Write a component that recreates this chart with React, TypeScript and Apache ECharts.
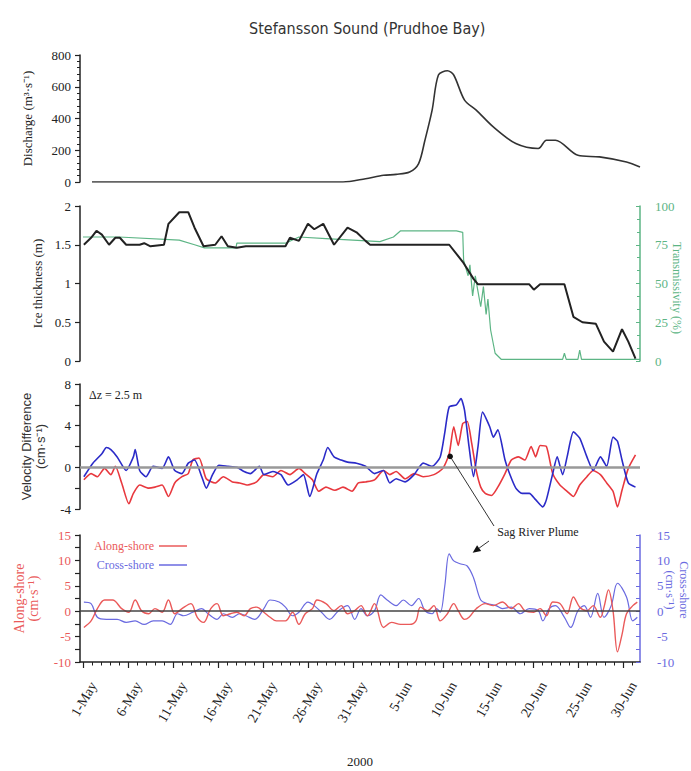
import React, { useEffect, useRef } from "react";
import * as echarts from "echarts";

// ---------- axis / tick data ----------
const X_MIN = -0.33;
const X_MAX = 61.9;
const tickDays = [0, 5, 10, 15, 20, 25, 30, 35, 40, 45, 50, 55, 60];
const tickLabels = ["1-May", "6-May", "11-May", "16-May", "21-May", "26-May", "31-May", "5-Jun", "10-Jun", "15-Jun", "20-Jun", "25-Jun", "30-Jun"];
const dayTicks = Array.from({ length: 62 }, (_, i) => i);

// ---------- panel 1: discharge ----------
const dischargeDays = [1.0, 28.9, 31.4, 33.4, 34.8, 36.3, 37.3, 38.0, 38.8, 39.5, 40.5, 41.2, 42.4, 43.7, 45.6, 48.1, 50.6, 51.5, 52.5, 55.0, 57.4, 60.4, 61.9];
const discharge = [0, 0, 21, 42, 48, 63, 116, 263, 453, 674, 701, 674, 516, 453, 347, 242, 211, 263, 263, 168, 158, 126, 95];

// ---------- panel 2: ice thickness & transmissivity ----------
const iceDays = [0.1, 0.9, 1.5, 2.1, 2.9, 3.6, 4.1, 4.8, 6.3, 6.8, 7.5, 9.0, 9.5, 10.7, 11.7, 12.4, 13.4, 14.7, 15.4, 16.1, 17.1, 18.1, 22.5, 23.0, 24.0, 25.0, 25.7, 26.7, 27.9, 29.4, 30.4, 31.4, 31.9, 40.7, 42.2, 43.4, 43.9, 49.6, 50.1, 50.8, 53.5, 54.5, 55.5, 57.0, 57.9, 58.9, 59.9, 60.6, 61.4];
const ice = [1.5, 1.59, 1.68, 1.63, 1.5, 1.59, 1.59, 1.5, 1.5, 1.52, 1.48, 1.5, 1.77, 1.92, 1.92, 1.72, 1.48, 1.5, 1.61, 1.48, 1.46, 1.48, 1.48, 1.59, 1.55, 1.77, 1.7, 1.77, 1.5, 1.72, 1.66, 1.55, 1.5, 1.5, 1.28, 1.06, 0.99, 0.99, 0.92, 0.99, 0.99, 0.57, 0.5, 0.48, 0.25, 0.12, 0.41, 0.25, 0.03];
const transDays = [0, 4, 10.7, 12.4, 13.5, 17.0, 17.1, 22.5, 24.0, 27.0, 30.0, 33.0, 34.5, 35.3, 41.5, 42.2, 42.3, 42.8, 43.0, 43.3, 43.6, 43.8, 44.2, 44.5, 44.8, 45.0, 45.3, 45.8, 46.5, 53.3, 53.5, 53.7, 55.0, 55.2, 55.4, 61.9];
const trans = [80, 80, 78, 75, 73, 73, 76, 76, 80, 79, 78, 77, 80, 84, 84, 83, 65, 55, 62, 42, 55, 48, 35, 48, 30, 40, 20, 5, 1, 1, 5, 1, 1, 7, 1, 1];

// ---------- panel 3: velocity difference ----------
const velAlongDays = [0.1, 0.9, 1.6, 2.4, 3.1, 3.6, 4.3, 5.1, 5.6, 6.3, 7.3, 8.0, 8.8, 9.5, 10.2, 11.0, 11.7, 12.2, 12.9, 13.7, 14.7, 15.6, 16.6, 17.4, 18.3, 19.3, 20.1, 21.1, 22.0, 23.0, 24.0, 24.7, 25.5, 26.2, 27.0, 28.0, 28.9, 29.9, 30.6, 31.4, 32.4, 33.4, 34.1, 34.8, 35.8, 36.8, 37.8, 39.0, 40.0, 40.7, 41.2, 41.7, 42.2, 42.7, 43.2, 43.7, 44.2, 44.7, 45.4, 46.1, 46.9, 47.6, 48.4, 49.1, 49.8, 50.3, 50.8, 51.5, 52.2, 53.0, 53.8, 54.5, 55.2, 56.0, 56.7, 57.5, 58.2, 58.9, 59.4, 59.9, 60.6, 61.4];
const velAlong = [-1.2, -0.6, -0.9, -0.1, -0.7, 0.1, -1.5, -3.5, -2.5, -1.7, -2.0, -1.9, -1.7, -2.8, -1.5, -0.9, -0.6, 0.7, 0.9, -1.1, -1.5, -0.9, -1.4, -1.5, -1.7, -1.4, -0.7, -0.9, -0.3, -0.7, -0.1, -0.6, -1.2, -2.3, -1.9, -2.2, -1.9, -2.3, -1.5, -1.4, -1.2, -0.3, -0.7, -0.4, -1.1, -0.6, -0.9, -0.7, -0.1, 1.3, 3.9, 2.1, 4.2, 4.4, 2.3, -0.3, -1.9, -2.5, -2.7, -1.9, -0.6, 0.7, 1.0, 0.7, 2.0, 1.0, 2.1, 2.0, -0.6, -1.7, -2.3, -2.8, -1.7, -0.9, -0.3, -0.7, -1.5, -2.3, -3.8, -2.2, -0.1, 1.2];
const velCrossDays = [0.1, 1.1, 2.1, 2.6, 3.1, 3.8, 4.8, 5.6, 5.8, 6.3, 7.0, 7.8, 8.8, 9.5, 10.2, 11.0, 11.7, 12.4, 13.2, 13.7, 14.4, 15.1, 16.1, 17.1, 17.9, 18.6, 19.6, 20.1, 21.1, 22.0, 22.8, 23.8, 24.5, 25.2, 26.0, 26.7, 27.2, 27.9, 28.7, 29.4, 30.4, 31.4, 32.4, 33.4, 34.1, 34.8, 35.8, 36.8, 37.8, 38.8, 39.7, 40.2, 40.7, 41.5, 42.0, 42.4, 42.9, 43.4, 43.9, 44.4, 45.2, 45.6, 46.1, 46.9, 47.4, 48.1, 48.8, 49.6, 50.3, 51.1, 51.5, 52.2, 52.7, 53.3, 53.8, 54.5, 55.2, 56.0, 56.7, 57.5, 58.2, 58.9, 59.4, 59.9, 60.6, 61.4];
const velCross = [-0.9, 0.4, 1.3, 1.9, 1.7, 1.0, -0.3, 1.0, 1.7, -0.3, -0.9, 0.1, -0.1, 1.0, -0.3, -0.6, 0.4, 0.7, -0.9, -2.0, -0.7, 0.2, 0.1, 0, -0.4, -0.6, 0.1, -0.7, -0.4, -0.7, -1.7, -1.2, -0.7, -2.8, -0.6, 0.7, 1.9, 1.0, 0.7, 0.5, 0.4, 0.1, -0.6, -0.3, -1.5, -1.1, -1.4, -0.7, 0.4, 0.1, 1.0, 3.3, 5.8, 6.0, 6.6, 5.5, 2.0, -0.9, 2.0, 5.3, 3.9, 2.9, 3.6, 0.7, -0.6, -2.0, -2.5, -2.5, -3.1, -3.8, -3.1, -0.6, 1.0, -0.7, 1.0, 3.4, 2.8, 1.0, -0.3, 1.0, 0.1, 2.9, 2.5, 0.7, -1.5, -1.9];

// ---------- panel 4: along-shore / cross-shore ----------
const alongDays = [0.1, 0.9, 1.6, 2.4, 3.3, 4.3, 5.1, 5.8, 6.5, 7.3, 8.0, 8.8, 9.5, 10.2, 11.0, 12.0, 12.7, 13.4, 14.2, 14.9, 15.6, 16.4, 17.1, 17.9, 18.6, 19.3, 20.1, 20.8, 21.5, 22.5, 23.3, 24.0, 24.7, 25.5, 26.0, 27.0, 27.9, 28.7, 29.4, 30.2, 30.9, 31.6, 32.4, 33.4, 34.3, 35.3, 36.3, 37.0, 37.5, 38.3, 39.0, 39.7, 40.5, 41.2, 41.7, 42.4, 42.9, 43.7, 44.7, 45.6, 46.6, 47.6, 48.4, 49.1, 50.1, 50.8, 51.5, 52.2, 53.0, 53.8, 54.5, 55.2, 56.0, 56.7, 57.5, 57.9, 58.4, 58.9, 59.4, 59.9, 60.4, 61.1, 61.6];
const along = [-3.2, -1.9, 0.5, 2.2, 2.2, 0.5, -0.2, 2.2, 0.1, -0.5, 0.5, -0.2, 2.2, -0.5, 0.5, 1.5, -1.2, -2.2, 0.5, 1.5, -0.9, -0.5, -0.2, -0.9, 0.5, 0.8, -0.2, -1.2, -1.9, -1.9, -0.2, -2.6, -0.5, 0.5, 2.2, 1.5, 0.1, 1.1, -0.5, 0.1, 1.1, -0.9, 1.5, -3.2, -2.2, -2.6, -2.6, -1.9, 0.8, 0.1, 1.1, -1.9, -0.5, 1.5, 0.1, -1.6, -1.2, 0.5, 1.5, 1.1, 1.8, 0.5, 1.5, 0.1, -0.2, 0.5, -0.9, 1.8, 1.5, -0.5, 2.8, 0.8, 0.1, 1.1, -1.2, 0.8, 4.2, 0.1, -8.0, -4.6, -0.5, 1.1, 1.8];
const crossDays = [0.1, 0.9, 1.6, 2.6, 3.8, 4.8, 5.8, 6.8, 7.8, 8.8, 9.7, 10.5, 11.2, 12.2, 13.2, 13.9, 14.9, 15.6, 16.6, 17.4, 18.1, 19.1, 20.1, 20.8, 21.8, 22.5, 23.3, 24.0, 25.0, 25.7, 26.5, 27.4, 28.4, 29.4, 30.2, 30.9, 31.6, 32.4, 33.1, 33.8, 34.8, 35.6, 36.5, 37.3, 38.0, 38.8, 39.3, 39.7, 40.2, 40.7, 41.2, 42.0, 42.7, 43.4, 44.2, 44.9, 45.9, 46.6, 47.6, 48.6, 49.6, 50.6, 51.1, 51.8, 52.5, 53.5, 54.2, 55.0, 55.7, 56.4, 57.2, 57.9, 58.7, 59.4, 60.4, 61.1, 61.6];
const cross = [1.8, 1.5, -1.2, -1.6, -1.6, -2.2, -1.9, -2.6, -1.9, -1.9, -2.6, -0.5, -0.9, -0.2, 0.5, -0.5, -1.6, -0.5, -1.2, -0.5, -0.9, -1.6, 0.5, 2.2, 1.8, 0.8, -0.9, -0.2, 1.8, 1.1, -0.2, -1.6, 0.1, 1.1, -1.6, 0.5, -0.9, 0.1, 3.2, 2.2, 1.1, 2.2, 1.1, 2.5, 0.1, -0.5, 0.5, -0.2, 4.9, 11.3, 9.9, 9.3, 8.9, 6.6, 2.2, 1.5, 1.1, 0.5, 0.8, -0.5, 0.5, 0.1, -1.9, 0.5, 1.1, -1.2, -3.2, 0.1, 1.1, -1.2, 3.5, -1.2, 1.1, 5.5, 2.8, -1.9, -1.2];

// annotation anchors (data coordinates)
const plumeDot = [40.8, 1.05];
const plumeArrowTip = [43.3, 11.5];

const zip = (xs: number[], ys: number[]) => xs.slice(0, Math.min(xs.length, ys.length)).map((x, i) => [x, ys[i]]);

const SERIF = "'Liberation Serif','Times New Roman',serif";
const SANS = "'Liberation Sans',Arial,sans-serif";
const BLACK = "#222";
const RED = "#e8383e";
const BLUE = "#2b2bc8";
const RED4 = "#ea5a5a";
const BLUE4 = "#6a6ae0";
const GREEN = "#5db585";

const hiddenX = (gridIndex: number) => ({ type: "value", gridIndex, min: X_MIN, max: X_MAX, show: false });

const labelFor = (v: number) => {
  const i = tickDays.indexOf(Math.round(v));
  return i >= 0 ? tickLabels[i] : "";
};

const dateLabel = (values: number[]) => ({
  show: true,
  customValues: values,
  showMinLabel: true,
  showMaxLabel: true,
  hideOverlap: false,
  rotate: 60,
  formatter: labelFor,
  fontFamily: SERIF,
  fontSize: 14,
  color: BLACK,
  margin: 15,
  verticalAlign: "top",
  lineHeight: 24,
});

const leftY = (gridIndex: number, min: number, max: number, interval: number, extra: any = {}) => ({
  type: "value",
  gridIndex,
  position: "left",
  min,
  max,
  interval,
  axisLine: { show: true, onZero: false, lineStyle: { color: BLACK, width: 1.5 } },
  axisTick: { show: true, length: 5, lineStyle: { color: BLACK, width: 1.2 } },
  axisLabel: { fontFamily: SERIF, fontSize: 13, color: BLACK, margin: 9 },
  splitLine: { show: false },
  nameLocation: "middle",
  ...extra,
});

const gridBox = (top: number, height: number) => ({ left: 80, right: 51, top, height, outerBoundsMode: "none", containLabel: false });

const vText = (x: number, y: number, text: string, color: string, fontSize: number) => ({
  type: "text",
  x,
  y,
  rotation: -Math.PI / 2,
  style: { text, fontFamily: SERIF, fontSize, fill: color, align: "center", verticalAlign: "middle" },
  z: 100,
});

export default function App() {
  const ref = useRef<HTMLDivElement>(null);
  useEffect(() => {
    if (!ref.current) return;
    const chart = echarts.init(ref.current, null, { renderer: "svg" });
    const evenTicks = tickDays.filter((_, i) => i % 2 === 0);
    const oddTicks = tickDays.filter((_, i) => i % 2 === 1);
    const option: any = {
      animation: false,
      backgroundColor: "#fff",
      title: {
        text: "Stefansson Sound (Prudhoe Bay)",
        left: 244,
        top: 15,
        textStyle: { fontFamily: "'DejaVu Sans Condensed','DejaVu Sans',sans-serif", fontSize: 16, fontWeight: "normal", color: "#333" },
      },
      legend: {
        data: [
          { name: "Along-shore", textStyle: { color: RED4 } },
          { name: "Cross-shore", textStyle: { color: BLUE4 } },
        ],
        orient: "vertical",
        left: 89,
        top: 535,
        align: "right",
        icon: "rect",
        itemWidth: 28,
        itemHeight: 1.5,
        itemGap: 7,
        textStyle: { fontFamily: SERIF, fontSize: 12 },
      },
      grid: [gridBox(55, 127), gridBox(206, 155), gridBox(384, 125), gridBox(535, 127)],
      xAxis: [
        hiddenX(0),
        hiddenX(1),
        hiddenX(2),
        {
          type: "value",
          gridIndex: 3,
          min: X_MIN,
          max: X_MAX,
          position: "bottom",
          axisLine: { show: true, onZero: false, lineStyle: { color: BLACK, width: 1.5 } },
          axisTick: { show: true, customValues: tickDays, length: 6, lineStyle: { color: BLACK, width: 1.2 } },
          axisLabel: dateLabel(evenTicks),
          splitLine: { show: false },
          name: "2000",
          nameLocation: "middle",
          nameGap: 93,
          nameTextStyle: { fontFamily: SERIF, fontSize: 13, color: BLACK },
        },
        {
          type: "value",
          gridIndex: 3,
          min: X_MIN,
          max: X_MAX,
          position: "bottom",
          axisLine: { show: false, onZero: false },
          axisTick: { show: true, customValues: dayTicks, length: 3.5, lineStyle: { color: BLACK, width: 1 } },
          axisLabel: { show: false },
          splitLine: { show: false },
        },
        {
          type: "value",
          gridIndex: 3,
          min: X_MIN,
          max: X_MAX,
          position: "bottom",
          axisLine: { show: false, onZero: false },
          axisTick: { show: false },
          axisLabel: dateLabel(oddTicks),
          splitLine: { show: false },
        },
      ],
      yAxis: [
        leftY(0, 0, 800, 200, {
          minorTick: { show: true, splitNumber: 5, length: 3, lineStyle: { color: BLACK } },
          name: "Discharge (m³·s⁻¹)",
          nameGap: 46,
          nameTextStyle: { fontFamily: SERIF, fontSize: 13, color: BLACK },
        }),
        leftY(1, 0, 2, 0.5, {
          name: "Ice thickness (m)",
          nameGap: 36,
          nameTextStyle: { fontFamily: SERIF, fontSize: 13, color: BLACK },
        }),
        {
          type: "value",
          gridIndex: 1,
          position: "right",
          min: 0,
          max: 100,
          interval: 25,
          axisLine: { show: true, onZero: false, lineStyle: { color: GREEN, width: 1.5 } },
          axisTick: { show: true, inside: true, length: 4, lineStyle: { color: GREEN } },
          minorTick: { show: true, splitNumber: 3, length: 3, lineStyle: { color: GREEN } },
          axisLabel: { fontFamily: SERIF, fontSize: 13, color: GREEN, margin: 15 },
          splitLine: { show: false },
        },
        leftY(2, -4, 8, 2, {
          axisLabel: { fontFamily: SERIF, fontSize: 13, color: BLACK, margin: 9, formatter: (v: number) => (v % 4 === 0 ? String(v) : "") },
          name: "Velocity Difference\n(cm·s⁻¹)",
          nameGap: 33,
          nameTextStyle: { fontFamily: SANS, fontSize: 13, color: "#333", lineHeight: 14 },
        }),
        leftY(3, -10, 15, 2.5, {
          axisLabel: { fontFamily: SERIF, fontSize: 13, color: RED4, margin: 9, formatter: (v: number) => (v % 5 === 0 ? String(v) : "") },
          name: "Along-shore\n(cm·s⁻¹)",
          nameGap: 40,
          nameTextStyle: { fontFamily: SERIF, fontSize: 14, color: RED4, lineHeight: 14 },
        }),
        {
          type: "value",
          gridIndex: 3,
          position: "right",
          min: -10,
          max: 15,
          interval: 2.5,
          axisLine: { show: true, onZero: false, lineStyle: { color: BLUE4, width: 1.5 } },
          axisTick: { show: true, inside: true, length: 4, lineStyle: { color: BLUE4 } },
          axisLabel: { fontFamily: SERIF, fontSize: 13, color: BLUE4, margin: 17, formatter: (v: number) => (v % 5 === 0 ? String(v) : "") },
          splitLine: { show: false },
        },
      ],
      series: [
        {
          name: "Discharge",
          type: "line",
          xAxisIndex: 0,
          yAxisIndex: 0,
          data: zip(dischargeDays, discharge),
          showSymbol: false,
          smooth: 0.3,
          lineStyle: { color: "#333", width: 1.6 },
        },
        {
          name: "Transmissivity",
          type: "line",
          xAxisIndex: 1,
          yAxisIndex: 2,
          data: zip(transDays, trans),
          showSymbol: false,
          lineStyle: { color: GREEN, width: 1.2 },
        },
        {
          name: "Ice thickness",
          type: "line",
          xAxisIndex: 1,
          yAxisIndex: 1,
          data: zip(iceDays, ice),
          showSymbol: false,
          lineStyle: { color: BLACK, width: 2 },
        },
        {
          name: "Along difference",
          type: "line",
          xAxisIndex: 2,
          yAxisIndex: 3,
          data: zip(velAlongDays, velAlong),
          showSymbol: false,
          smooth: 0.2,
          lineStyle: { color: RED, width: 1.6 },
          markLine: {
            silent: true,
            symbol: ["none", "none"],
            label: { show: false },
            lineStyle: { color: "#999", width: 2.5, type: "solid" },
            data: [{ yAxis: 0 }],
          },
        },
        {
          name: "Cross difference",
          type: "line",
          xAxisIndex: 2,
          yAxisIndex: 3,
          data: zip(velCrossDays, velCross),
          showSymbol: false,
          smooth: 0.2,
          lineStyle: { color: BLUE, width: 1.6 },
        },
        {
          name: "Cross-shore",
          type: "line",
          xAxisIndex: 3,
          yAxisIndex: 5,
          data: zip(crossDays, cross),
          showSymbol: false,
          smooth: 0.35,
          itemStyle: { color: BLUE4 },
          lineStyle: { color: BLUE4, width: 1.2 },
        },
        {
          name: "Along-shore",
          type: "line",
          xAxisIndex: 3,
          yAxisIndex: 4,
          data: zip(alongDays, along),
          showSymbol: false,
          smooth: 0.35,
          itemStyle: { color: RED4 },
          lineStyle: { color: RED4, width: 1.4 },
          markLine: {
            silent: true,
            symbol: ["none", "none"],
            label: { show: false },
            lineStyle: { color: "#444", width: 1.5, type: "solid" },
            data: [{ yAxis: 0 }],
          },
        },
      ],
    };
    chart.setOption(option);

    // annotations anchored through the axes' scales
    const dot = chart.convertToPixel({ xAxisIndex: 2, yAxisIndex: 3 }, plumeDot) as number[];
    const tip = chart.convertToPixel({ xAxisIndex: 3, yAxisIndex: 5 }, plumeArrowTip) as number[];
    const labelX = 538;
    const labelY = 532;
    const lineEnd = [labelX - 44, labelY - 6];
    const tail = [labelX - 49, labelY + 9];
    const dx = tip[0] - tail[0];
    const dy = tip[1] - tail[1];
    const len = Math.hypot(dx, dy) || 1;
    const ux = dx / len;
    const uy = dy / len;
    const hl = 8;
    const hw = 3.5;
    const bx = tip[0] - ux * hl;
    const by = tip[1] - uy * hl;
    chart.setOption({
      graphic: [
        vText(677, 288, "Transmissivity (%)", GREEN, 12),
        vText(684, 590, "Cross-shore", BLUE4, 12),
        vText(670, 590, "(cm·s⁻¹)", BLUE4, 12),
        {
          type: "text",
          left: 89,
          top: 389,
          style: { text: "Δz = 2.5 m", fontFamily: SERIF, fontSize: 12, fill: BLACK },
        },
        {
          type: "line",
          shape: { x1: dot[0], y1: dot[1], x2: lineEnd[0], y2: lineEnd[1] },
          style: { stroke: "#333", lineWidth: 1 },
          z: 100,
        },
        {
          type: "circle",
          shape: { cx: dot[0], cy: dot[1], r: 2.8 },
          style: { fill: "#111" },
          z: 101,
        },
        {
          type: "text",
          x: labelX,
          y: labelY,
          style: { text: "Sag River Plume", fontFamily: SERIF, fontSize: 12, fill: BLACK, align: "center", verticalAlign: "middle" },
          z: 100,
        },
        {
          type: "line",
          shape: { x1: tail[0], y1: tail[1], x2: bx, y2: by },
          style: { stroke: "#333", lineWidth: 1 },
          z: 100,
        },
        {
          type: "polygon",
          shape: {
            points: [
              [tip[0], tip[1]],
              [bx - uy * hw, by + ux * hw],
              [bx + uy * hw, by - ux * hw],
            ],
          },
          style: { fill: "#111" },
          z: 100,
        },
      ],
    });

    return () => chart.dispose();
  }, []);
  return <div ref={ref} style={{ position: "absolute", left: 0, top: 0, width: 691, height: 771, background: "#fff" }} />;
}
